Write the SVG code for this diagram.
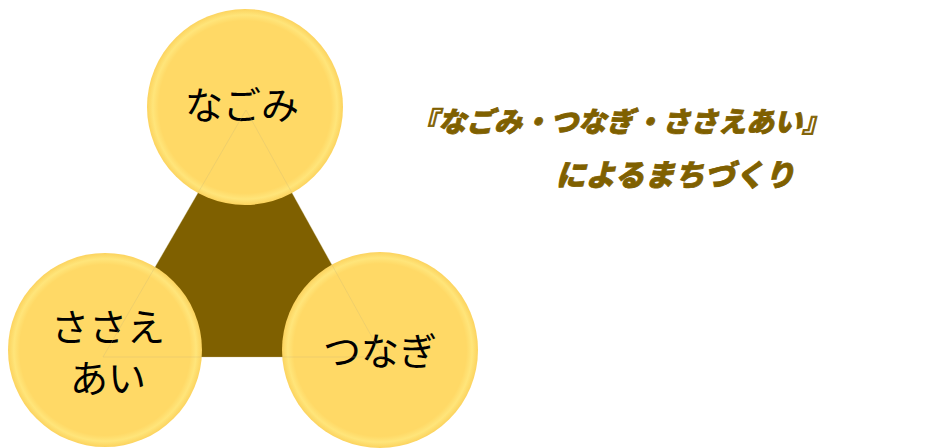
<svg xmlns="http://www.w3.org/2000/svg" width="928" height="448" viewBox="0 0 928 448">
<defs>
<radialGradient id="coin" cx="0.5" cy="0.5" r="0.5" fx="0.5" fy="0.5">
<stop offset="0" stop-color="#FFD966"/>
<stop offset="0.88" stop-color="#FFD966"/>
<stop offset="0.94" stop-color="#FFE57A"/>
<stop offset="1" stop-color="#FCD35E"/>
</radialGradient>
<style>
.coin{fill:url(#coin);}
.lbl{font-family:"Noto Sans CJK JP","Noto Sans",sans-serif;font-size:38px;fill:#000;text-anchor:middle;font-weight:400;}
.title{font-family:"Noto Sans CJK JP","Noto Sans",sans-serif;font-weight:900;font-style:italic;fill:#7F6000;stroke:#7F6000;stroke-width:0.8;text-anchor:middle;}
.edge{fill:none;stroke:#C9B77A;stroke-width:0.6;opacity:0.5;}
</style>
</defs>
<g id="triangle">
<polygon points="246,110 103,357 383,357" fill="#7F6000"/>
</g>
<g id="node-nagomi">
<circle class="coin" cx="245" cy="107" r="98"/>
<text class="lbl" x="242" y="119">なごみ</text>
</g>
<g id="node-sasaeai">
<circle class="coin" cx="105" cy="350" r="97"/>
<text class="lbl" x="108" y="341">ささえ</text>
<text class="lbl" x="108" y="392">あい</text>
</g>
<g id="node-tsunagi">
<circle class="coin" cx="380" cy="350" r="98"/>
<text class="lbl" x="380" y="365">つなぎ</text>
</g>
<g id="connectors">
<polygon class="edge" points="246,110 103,357 383,357"/>
</g>
<g id="title">
<text class="title" x="620" y="132" font-size="28">『なごみ・つなぎ・ささえあい』</text>
<text class="title" x="675" y="186" font-size="30">によるまちづくり</text>
</g>
</svg>
